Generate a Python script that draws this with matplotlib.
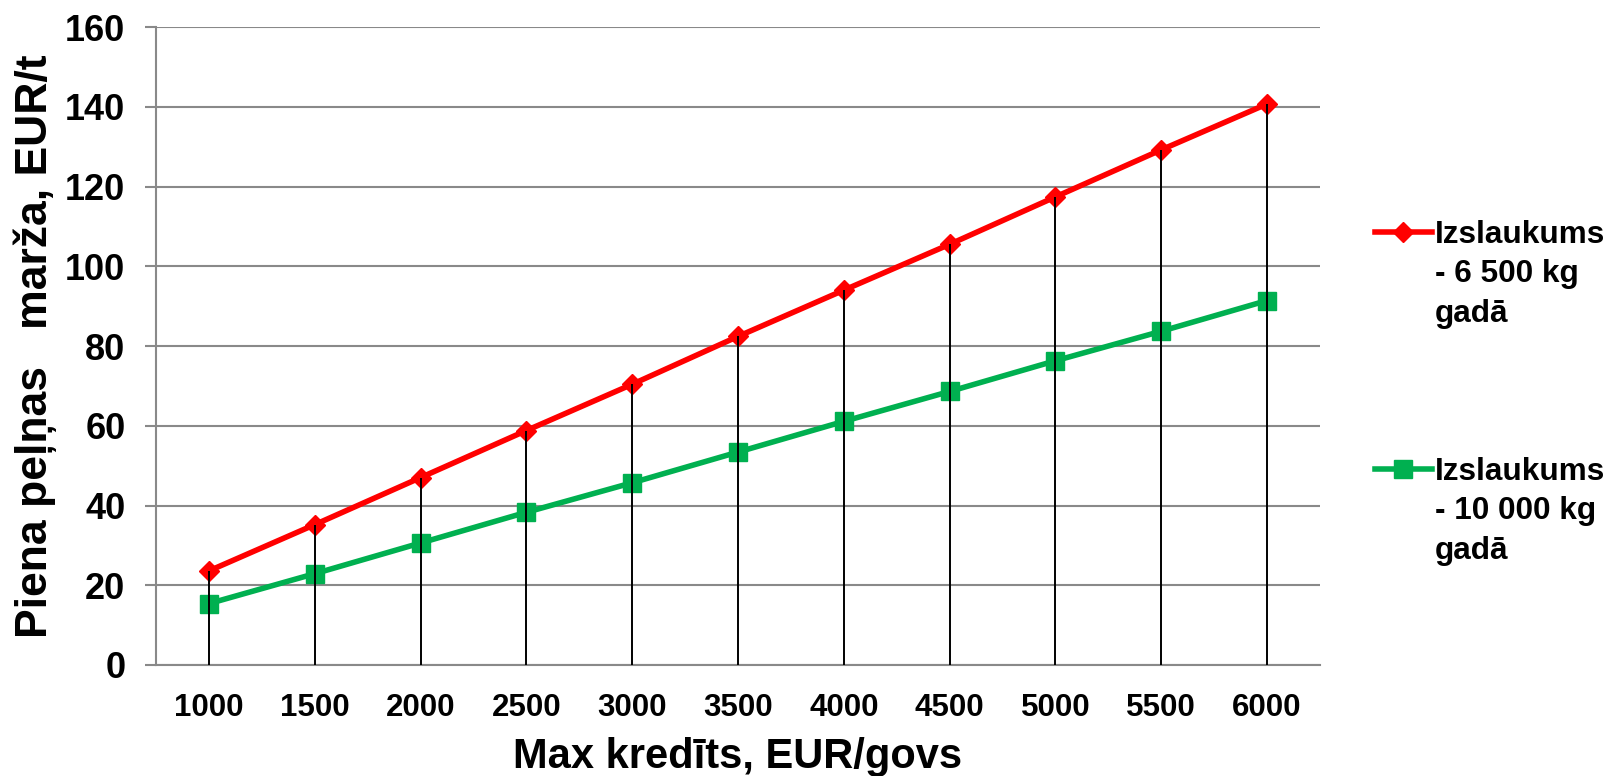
import matplotlib
matplotlib.use("Agg")
import matplotlib.pyplot as plt
from matplotlib.lines import Line2D

plt.rcParams["font.family"] = ["Liberation Sans", "DejaVu Sans"]
plt.rcParams["font.weight"] = "bold"

credit = ["1000", "1500", "2000", "2500", "3000", "3500",
          "4000", "4500", "5000", "5500", "6000"]
margin_6500 = [23.6, 35.2, 47.0, 58.8, 70.4, 82.4, 94.0, 105.5, 117.4, 129.2, 140.7]
margin_10000 = [15.4, 22.9, 30.6, 38.3, 45.7, 53.4, 61.1, 68.6, 76.3, 83.7, 91.4]
yticks = [0, 20, 40, 60, 80, 100, 120, 140, 160]

red = "#FF0000"
green = "#00B050"
grid = "#898989"

fig = plt.figure(figsize=(16.1, 7.76), dpi=100)
ax = fig.add_axes([156 / 1610, 111 / 776, 1164 / 1610, (665 - 27) / 776])

x = list(range(len(credit)))
ax.plot(x, margin_6500, color=red, lw=4, marker="D", ms=10, zorder=3)
ax.plot(x, margin_10000, color=green, lw=4, marker="s", ms=13.5, zorder=3)
ax.vlines(x, 0, margin_6500, colors="black", lw=1.4, zorder=5)

ax.set_xlim(-0.5, len(credit) - 0.5)
ax.set_ylim(0, 160)
ax.set_yticks(yticks)
ax.set_xticks(x)
ax.set_xticklabels(credit)
ax.yaxis.grid(True, color=grid, lw=1.5)
ax.set_axisbelow(True)

for s in ["top", "right"]:
    ax.spines[s].set_visible(False)
for s in ["left", "bottom"]:
    ax.spines[s].set_color(grid)
    ax.spines[s].set_linewidth(1.5)

ax.tick_params(axis="y", length=8, width=1.5, color=grid, pad=14, labelsize=26)
ax.tick_params(axis="x", length=0, pad=20, labelsize=22.5)

ax.set_xlabel("Max kredīts, EUR/govs", fontsize=30, fontweight="bold", labelpad=10)
ax.set_ylabel("Piena peļņas   marža, EUR/t", fontsize=32, fontweight="bold", labelpad=6)

blank = Line2D([], [], linestyle="none")
handles = [
    Line2D([], [], color=red, lw=4, marker="D", ms=10),
    blank, blank, blank, blank, blank,
    Line2D([], [], color=green, lw=4, marker="s", ms=13.5),
    blank, blank,
]
labels = ["Izslaukums", "- 6 500 kg", "gadā", "", "", "",
          "Izslaukums", "- 10 000 kg", "gadā"]
fig.legend(handles, labels, loc="upper left", bbox_to_anchor=(1375 / 1610, 1 - 220 / 776),
           frameon=False, handlelength=1.8, handletextpad=0.1,
           labelspacing=0.3, borderpad=0, borderaxespad=0,
           prop={"weight": "bold", "size": 22.7})

fig.savefig("out.png", dpi=100)
